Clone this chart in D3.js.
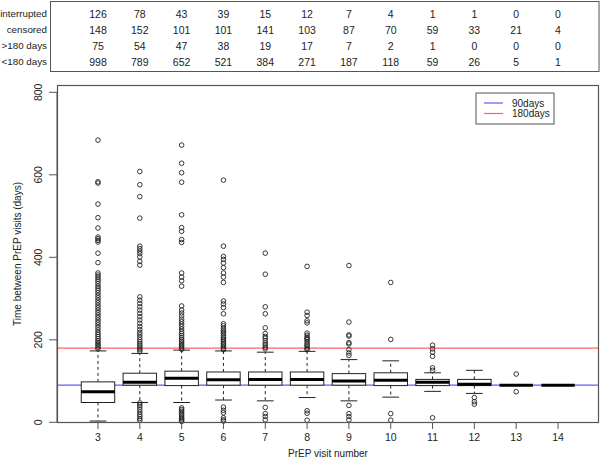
<!DOCTYPE html>
<html><head><meta charset="utf-8">
<script src="https://cdn.jsdelivr.net/npm/d3@7"></script>
<style>body{margin:0;background:#fff}svg{display:block;font-family:"Liberation Sans",Arial,sans-serif}</style>
</head><body><svg id="c" width="603" height="460"></svg>
<script>
const visits = [3,4,5,6,7,8,9,10,11,12,13,14];
const rowLabels = ["interrupted","censored",">180 days","<180 days"];
const interrupted = [126,78,43,39,15,12,7,4,1,1,0,0];
const censored = [148,152,101,101,141,103,87,70,59,33,21,4];
const over180 = [75,54,47,38,19,17,7,2,1,0,0,0];
const under180 = [998,789,652,521,384,271,187,118,59,26,5,1];

const whiskerLo = [3,48,48,54,52,60,52,61,75,70,90,90];
const q1 = [48,90,89,90,90,90,90,89,89,89,90,90];
const median = [74,97,107,103,104,104,100,102,97,92,90,90];
const q3 = [98,119,124,122,122,122,118,120,104,104,90,90];
const whiskerHi = [173,167,175,173,170,172,152,149,120,126,90,90];
const outliers = [
  [684,583,580,529,496,471,449,445,441,437,410,387,362,357,352,347,342,336,330,325,320,314,308,302,296,290,284,278,272,266,260,254,248,242,236,230,224,218,213,208,203,198,194,190,186,182,178],
  [608,576,547,495,427,421,415,409,401,390,381,304,296,288,280,272,264,256,248,240,232,225,218,212,206,200,195,190,185,180,176,172,47,42,37,31,25,19,14,9,5],
  [672,628,605,582,503,472,463,443,436,362,352,343,330,282,272,265,258,250,244,238,232,226,220,215,210,205,200,196,192,188,184,180,177,35,31,27,23,19,15,11,8,5,2],
  [587,427,402,395,386,375,362,352,339,294,287,278,263,239,234,228,223,219,215,210,206,202,199,195,191,187,183,179,176,37,29,23,11,6,3],
  [410,359,280,263,229,215,208,204,198,192,187,182,178,36,21,14,6],
  [378,267,259,246,241,216,211,206,203,200,195,190,187,183,179,176,28,22,5],
  [380,243,212,209,193,190,176,168,162,41,21,14,6],
  [339,201,21,5],
  [187,178,170,160,132,126,11],
  [60,50,44],
  [117,74],
  []
];
const yTicks = [0,200,400,600,800];
const refLines = [{label:"90days", value:90, color:"#5c5cff"},{label:"180days", value:180, color:"#ff6262"}];

const svg = d3.select("#c");
const L = 57, R = 599, T = 85, B = 423;
const x = d3.scaleLinear().domain([0.02, 12.98]).range([L, R]);
const y = d3.scaleLinear().domain([-1.7, 817.7]).range([B, T]);
const pos = i => x(i + 1);
const bw = x(0.8) - x(0);
const FS = 10.5;

// table
const tbl = svg.append("g");
tbl.append("rect").attr("x",50.5).attr("y",1.5).attr("width",548.5).attr("height",70).attr("fill","none").attr("stroke","#555").attr("stroke-width",1);
const rows = [interrupted, censored, over180, under180];
const rowY = [14, 30, 46, 62];
rows.forEach((r, ri) => {
  tbl.append("text").attr("x",47).attr("y",rowY[ri]).attr("dy","0.35em").attr("text-anchor","end").attr("font-size",9.8).attr("fill","#222").text(rowLabels[ri]);
  r.forEach((v, i) => {
    tbl.append("text").attr("x",pos(i)).attr("y",rowY[ri]).attr("dy","0.35em").attr("text-anchor","middle").attr("font-size",FS).attr("fill","#222").text(v);
  });
});

// reference lines
refLines.forEach(l => {
  svg.append("line").attr("x1",L).attr("x2",R).attr("y1",y(l.value)).attr("y2",y(l.value)).attr("stroke",l.color).attr("stroke-width",1.2);
});

// boxes
const g = svg.append("g");
visits.forEach((v, i) => {
  const cx = pos(i);
  const st = bw * 0.25;
  g.append("line").attr("x1",cx).attr("x2",cx).attr("y1",y(q3[i])).attr("y2",y(whiskerHi[i])).attr("stroke","#222").attr("stroke-dasharray","3,3");
  g.append("line").attr("x1",cx).attr("x2",cx).attr("y1",y(q1[i])).attr("y2",y(whiskerLo[i])).attr("stroke","#222").attr("stroke-dasharray","3,3");
  g.append("line").attr("x1",cx-st).attr("x2",cx+st).attr("y1",y(whiskerHi[i])).attr("y2",y(whiskerHi[i])).attr("stroke","#222");
  g.append("line").attr("x1",cx-st).attr("x2",cx+st).attr("y1",y(whiskerLo[i])).attr("y2",y(whiskerLo[i])).attr("stroke","#222");
  g.append("rect").attr("x",cx-bw/2).attr("y",y(q3[i])).attr("width",bw).attr("height",Math.max(0,y(q1[i])-y(q3[i]))).attr("fill","#fff").attr("stroke","#222");
  g.append("line").attr("x1",cx-bw/2).attr("x2",cx+bw/2).attr("y1",y(median[i])).attr("y2",y(median[i])).attr("stroke","#000").attr("stroke-width",3);
  outliers[i].forEach(o => {
    g.append("circle").attr("cx",cx).attr("cy",y(o)).attr("r",2.3).attr("fill","none").attr("stroke","#222").attr("stroke-width",0.9);
  });
});

// plot frame
svg.append("rect").attr("x",L+0.5).attr("y",T+0.5).attr("width",R-L-1).attr("height",B-T-1).attr("fill","none").attr("stroke","#555").attr("stroke-width",1.2);

// y axis
const ya = svg.append("g");
yTicks.forEach(t => {
  ya.append("line").attr("x1",L-8).attr("x2",L).attr("y1",y(t)).attr("y2",y(t)).attr("stroke","#555");
  ya.append("text").attr("transform",`translate(${L-15},${y(t)}) rotate(-90)`).attr("text-anchor","middle").attr("font-size",FS).attr("fill","#222").text(t);
});
ya.append("line").attr("x1",L).attr("x2",L).attr("y1",y(0)).attr("y2",y(800)).attr("stroke","#555");
svg.append("text").attr("transform",`translate(21,254) rotate(-90)`).attr("text-anchor","middle").attr("font-size",10).attr("fill","#222").text("Time between PrEP visits (days)");

// x axis
visits.forEach((v, i) => {
  svg.append("line").attr("x1",pos(i)).attr("x2",pos(i)).attr("y1",B).attr("y2",B+6).attr("stroke","#555");
  svg.append("text").attr("x",pos(i)).attr("y",437).attr("dy","0.35em").attr("text-anchor","middle").attr("font-size",FS).attr("fill","#222").text(v);
});
svg.append("text").attr("x",(L+R)/2).attr("y",453).attr("dy","0.35em").attr("text-anchor","middle").attr("font-size",10).attr("fill","#222").text("PrEP visit number");

// legend
const lg = svg.append("g");
lg.append("rect").attr("x",476).attr("y",93).attr("width",78).attr("height",31).attr("fill","#fff").attr("stroke","#555");
refLines.forEach((l, k) => {
  const ly = 103 + k*10.5;
  lg.append("line").attr("x1",484).attr("x2",503).attr("y1",ly).attr("y2",ly).attr("stroke",l.color).attr("stroke-width",1.2);
  lg.append("text").attr("x",512).attr("y",ly).attr("dy","0.35em").attr("font-size",10).attr("fill","#222").text(l.label);
});
</script></body></html>
